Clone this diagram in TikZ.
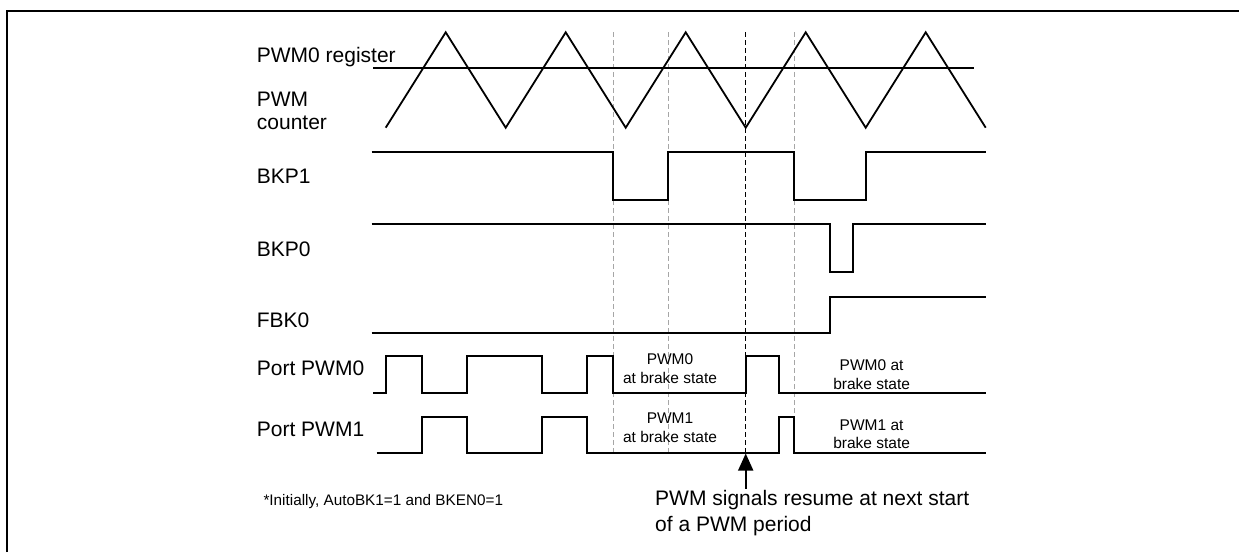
\documentclass[tikz,border=0pt]{standalone}
\usepackage{fontspec}
\setmainfont{Liberation Sans}
\usetikzlibrary{arrows.meta}
\begin{document}
\begin{tikzpicture}[x=1pt,y=-1pt,
  sig/.style={line width=1.8pt, line join=miter},
  guide/.style={black!35, line width=1pt, dash pattern=on 5pt off 3pt},
  mainguide/.style={black, line width=1pt, dash pattern=on 5pt off 3pt},
  lbl/.style={inner sep=0pt, anchor=base west, font=\fontsize{21}{23.3}\selectfont, align=left},
  small/.style={inner sep=0pt, anchor=base, font=\fontsize{15.5}{19}\selectfont, align=center},
  frame/.style={line width=2.6pt}
]
\useasboundingbox (0,0) rectangle (1239,552);
\fill[white] (0,0) rectangle (1239,552);
% frame
\draw[frame] (7,552) -- (7,11) -- (1239,11);

% guide lines
\draw[guide] (613.3,32) -- (613.3,452.7);
\draw[guide] (668,32) -- (668,452.7);
\draw[guide] (794,32) -- (794,452.7);
\draw[mainguide] (745.7,32) -- (745.7,452.7);

% PWM0 register and counter
\draw[sig] (373,68.3) -- (974,68.3);
\draw[sig] (385.7,127.7) -- (445.7,32.3) -- (505.7,127.7) -- (565.7,32.3) -- (625.7,127.7)
  -- (685.7,32.3) -- (745.7,127.7) -- (805.7,32.3) -- (865.7,127.7) -- (925.7,32.3) -- (985.7,127.7);

% BKP1
\draw[sig] (371.7,152.3) -- (613.3,152.3) -- (613.3,200) -- (668,200) -- (668,152.3)
  -- (794,152.3) -- (794,200) -- (865.7,200) -- (865.7,152.3) -- (985.7,152.3);
% BKP0
\draw[sig] (371.7,224.3) -- (830,224.3) -- (830,272.3) -- (853.3,272.3) -- (853.3,224.3) -- (985.7,224.3);
% FBK0
\draw[sig] (371.7,332.7) -- (830,332.7) -- (830,296.7) -- (985.7,296.7);
% Port PWM0
\draw[sig] (373.3,392.7) -- (386,392.7) -- (386,356) -- (422,356) -- (422,392.7) -- (467.3,392.7)
  -- (467.3,356) -- (542,356) -- (542,392.7) -- (587.3,392.7) -- (587.3,356) -- (613.3,356)
  -- (613.3,392.7) -- (745.7,392.7) -- (745.7,356) -- (778.7,356) -- (778.7,392.7) -- (985.7,392.7);
% Port PWM1
\draw[sig] (376.7,452.7) -- (422,452.7) -- (422,416.7) -- (467.3,416.7) -- (467.3,452.7) -- (542,452.7)
  -- (542,416.7) -- (587.3,416.7) -- (587.3,452.7) -- (778.7,452.7) -- (778.7,416.7) -- (794,416.7)
  -- (794,452.7) -- (985.7,452.7);

% labels
\node[lbl] (lreg) at (256.7,62.7) {PWM0 register};
\node[lbl] (lcnt) at (256.7,129.3) {PWM\\counter};
\node[lbl] (lbkp1) at (256.7,183.3) {BKP1};
\node[lbl] (lbkp0) at (256.7,256) {BKP0};
\node[lbl] (lfbk0) at (256.7,327.3) {FBK0};
\node[lbl] (lpwm0) at (256.7,375) {Port PWM0};
\node[lbl] (lpwm1) at (256.7,436) {Port PWM1};

\node[small] (br0a) at (670,383.3) {PWM0\\at brake state};
\node[small] (br1a) at (670,442.3) {PWM1\\at brake state};
\node[small, font=\fontsize{15.5}{19.3}\selectfont] (br0b) at (871.6,389.3) {PWM0 at\\brake state};
\node[small, font=\fontsize{15.5}{18.3}\selectfont] (br1b) at (871.6,448.3) {PWM1 at\\brake state};

\node[inner sep=0pt, anchor=base west, font=\fontsize{15.3}{18}\selectfont] (note) at (263.3,505) {*Initially, AutoBK1=1 and BKEN0=1};

\node[lbl, font=\fontsize{21}{26}\selectfont] (resume) at (655,531.7) {PWM signals resume at next start\\of a PWM period};

\coordinate (tip) at (745.7,453.5);
\coordinate (tail) at (745.7,488.5);
\draw[line width=1.6pt, -{Triangle[length=17pt,width=15pt]}] (tail) -- (tip);
\end{tikzpicture}
\end{document}
